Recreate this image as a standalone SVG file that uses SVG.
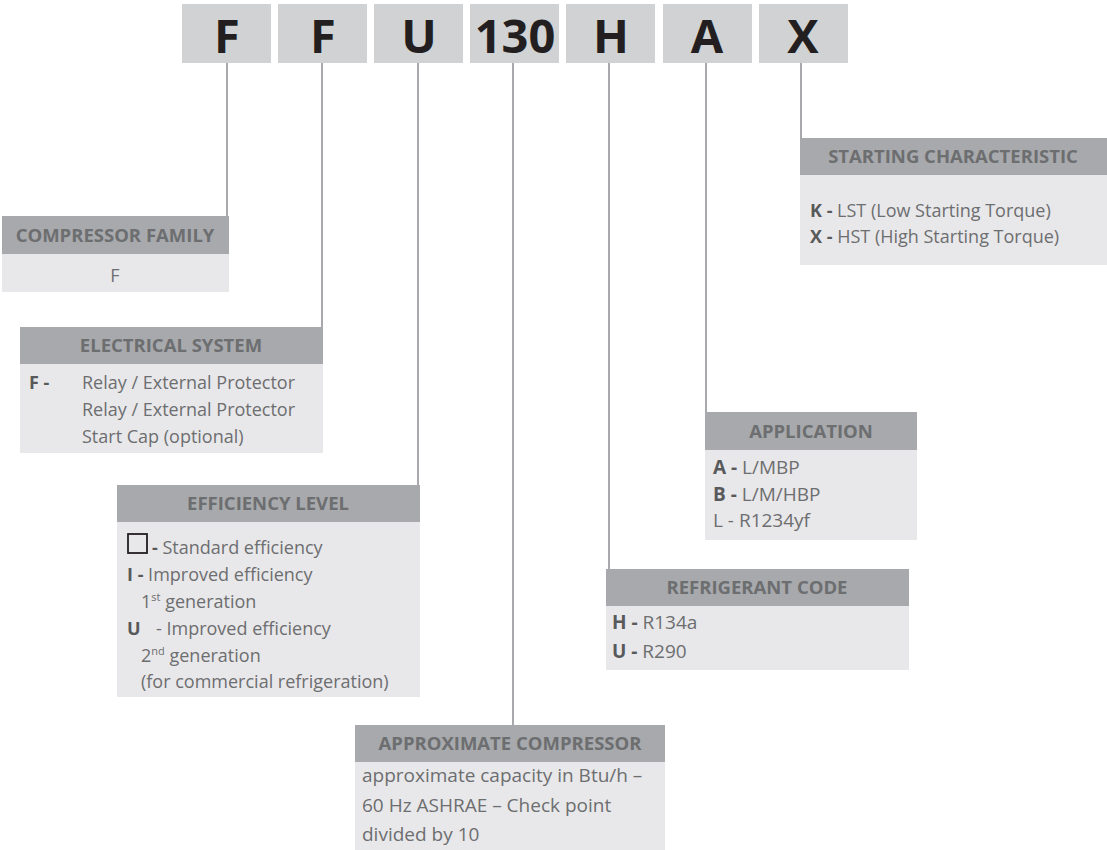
<svg xmlns="http://www.w3.org/2000/svg" width="1107" height="850" viewBox="0 0 1107 850">
<style>
.code{fill:#d1d2d4}
.ct{font-family:"Open Sans","Liberation Sans",sans-serif;font-weight:700;font-size:47px;fill:#231f20;text-anchor:middle}
.hd{fill:#a7a9ac}
.bd{fill:#e8e8ea}
.ht{font-family:"Open Sans","Liberation Sans",sans-serif;font-weight:700;font-size:18.5px;fill:#6d6e70;text-anchor:middle}
.tx{font-family:"Open Sans","Liberation Sans",sans-serif;font-size:18px;fill:#6d6e70}
.big{font-size:19px}
.b{font-weight:700;fill:#58595b}
.sup{font-size:11px}
.cn{stroke:#a7a9ac;stroke-width:2;fill:none}
</style>
<g id="code">
<rect class="code" x="182" y="4" width="89" height="59"/>
<rect class="code" x="278" y="4" width="89" height="59"/>
<rect class="code" x="374" y="4" width="89" height="59"/>
<rect class="code" x="470" y="4" width="89" height="59"/>
<rect class="code" x="566" y="4" width="89" height="59"/>
<rect class="code" x="663" y="4" width="89" height="59"/>
<rect class="code" x="759" y="4" width="89" height="59"/>
<text class="ct" x="227" y="53">F</text>
<text class="ct" x="323" y="53">F</text>
<text class="ct" x="419" y="53">U</text>
<text class="ct" x="515" y="53">130</text>
<text class="ct" x="611" y="53">H</text>
<text class="ct" x="707" y="53">A</text>
<text class="ct" x="803" y="53">X</text>
</g>
<g id="connectors">
<line class="cn" x1="227" y1="63" x2="227" y2="216"/>
<line class="cn" x1="322" y1="63" x2="322" y2="327"/>
<line class="cn" x1="418" y1="63" x2="418" y2="485"/>
<line class="cn" x1="513" y1="63" x2="513" y2="725"/>
<line class="cn" x1="609" y1="63" x2="609" y2="569"/>
<line class="cn" x1="706" y1="63" x2="706" y2="412"/>
<line class="cn" x1="801" y1="63" x2="801" y2="138"/>
</g>
<g id="family">
<rect class="hd" x="2" y="216" width="227" height="38"/>
<rect class="bd" x="2" y="254" width="227" height="38"/>
<text class="ht" x="115" y="242">COMPRESSOR FAMILY</text>
<text class="tx" x="115" y="282" text-anchor="middle">F</text>
</g>
<g id="electrical">
<rect class="hd" x="20" y="327" width="303" height="37"/>
<rect class="bd" x="20" y="364" width="303" height="89"/>
<text class="ht" x="171" y="352">ELECTRICAL SYSTEM</text>
<text class="tx b" x="29" y="389">F -</text>
<text class="tx" x="82" y="389">Relay / External Protector</text>
<text class="tx" x="82" y="416">Relay / External Protector</text>
<text class="tx" x="82" y="443">Start Cap (optional)</text>
</g>
<g id="efficiency">
<rect class="hd" x="117" y="485" width="303" height="37"/>
<rect class="bd" x="117" y="522" width="303" height="175"/>
<text class="ht" x="268" y="510">EFFICIENCY LEVEL</text>
<rect x="128" y="534" width="19" height="19" fill="none" stroke="#231f20" stroke-width="1.8"/>
<text class="tx" x="152" y="554"><tspan class="b">-</tspan> Standard efficiency</text>
<text class="tx" x="127" y="581"><tspan class="b">I -</tspan> Improved efficiency</text>
<text class="tx" x="141" y="608">1<tspan class="sup" dy="-7">st</tspan><tspan dy="7"> generation</tspan></text>
<text class="tx" x="127" y="635"><tspan class="b">U</tspan><tspan x="156">- Improved efficiency</tspan></text>
<text class="tx" x="141" y="662">2<tspan class="sup" dy="-7">nd</tspan><tspan dy="7"> generation</tspan></text>
<text class="tx" x="141" y="688">(for commercial refrigeration)</text>
</g>
<g id="approximate">
<rect class="hd" x="355" y="725" width="310" height="37"/>
<rect class="bd" x="355" y="762" width="310" height="88"/>
<text class="ht" x="510" y="750">APPROXIMATE COMPRESSOR</text>
<text class="tx big" x="362" y="782">approximate capacity in Btu/h –</text>
<text class="tx big" x="362" y="812">60 Hz ASHRAE – Check point</text>
<text class="tx big" x="362" y="841">divided by 10</text>
</g>
<g id="refrigerant">
<rect class="hd" x="606" y="569" width="303" height="37"/>
<rect class="bd" x="606" y="606" width="303" height="64"/>
<text class="ht" x="757" y="594">REFRIGERANT CODE</text>
<text class="tx big" x="612" y="629"><tspan class="b">H -</tspan> R134a</text>
<text class="tx big" x="612" y="658"><tspan class="b">U -</tspan> R290</text>
</g>
<g id="application">
<rect class="hd" x="705" y="412" width="212" height="38"/>
<rect class="bd" x="705" y="450" width="212" height="90"/>
<text class="ht" x="811" y="438">APPLICATION</text>
<text class="tx big" x="713" y="474"><tspan class="b">A -</tspan> L/MBP</text>
<text class="tx big" x="713" y="501"><tspan class="b">B -</tspan> L/M/HBP</text>
<text class="tx big" x="713" y="527">L - R1234yf</text>
</g>
<g id="starting">
<rect class="hd" x="800" y="138" width="307" height="37"/>
<rect class="bd" x="800" y="175" width="307" height="90"/>
<text class="ht" x="953" y="163">STARTING CHARACTERISTIC</text>
<text class="tx" x="810" y="217"><tspan class="b">K -</tspan> LST (Low Starting Torque)</text>
<text class="tx" x="810" y="243"><tspan class="b">X -</tspan> HST (High Starting Torque)</text>
</g>
</svg>
